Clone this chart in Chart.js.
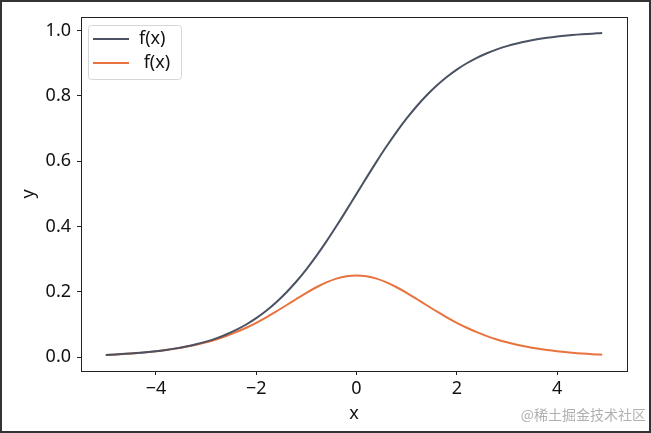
<!DOCTYPE html>
<html><head><meta charset="utf-8">
<script src="https://cdn.jsdelivr.net/npm/chart.js@4/dist/chart.umd.min.js"></script>
<style>html,body{margin:0;padding:0;background:#fff}#wrap{width:651px;height:433px;position:relative}</style>
</head><body><div id="wrap"><canvas id="c" width="651" height="433"></canvas></div>
<script>
const xValues = [-5.0,-4.8,-4.6,-4.4,-4.2,-4.0,-3.8,-3.6,-3.4,-3.2,-3.0,-2.8,-2.6,-2.4,-2.2,-2.0,-1.8,-1.6,-1.4,-1.2,-1.0,-0.8,-0.6,-0.4,-0.2,0.0,0.2,0.4,0.6,0.8,1.0,1.2,1.4,1.6,1.8,2.0,2.2,2.4,2.6,2.8,3.0,3.2,3.4,3.6,3.8,4.0,4.2,4.4,4.6,4.8,4.9];
const sigmoidValues = [0.0067,0.0082,0.0100,0.0121,0.0148,0.0180,0.0219,0.0266,0.0323,0.0392,0.0474,0.0573,0.0691,0.0832,0.0998,0.1192,0.1419,0.1680,0.1978,0.2315,0.2689,0.3100,0.3543,0.4013,0.4502,0.5000,0.5498,0.5987,0.6457,0.6900,0.7311,0.7685,0.8022,0.8320,0.8581,0.8808,0.9002,0.9168,0.9309,0.9427,0.9526,0.9608,0.9677,0.9734,0.9781,0.9820,0.9852,0.9879,0.9900,0.9918,0.9926];
const derivValues = [0.0066,0.0081,0.0099,0.0120,0.0146,0.0177,0.0214,0.0259,0.0313,0.0377,0.0452,0.0540,0.0643,0.0763,0.0898,0.1050,0.1218,0.1398,0.1587,0.1779,0.1966,0.2139,0.2288,0.2403,0.2475,0.2500,0.2475,0.2403,0.2288,0.2139,0.1966,0.1779,0.1587,0.1398,0.1218,0.1050,0.0898,0.0763,0.0643,0.0540,0.0452,0.0377,0.0313,0.0259,0.0214,0.0177,0.0146,0.0120,0.0099,0.0081,0.0074];
const seriesLabels = ["f(x)", " f(x)"];
const xTicks = [-4,-2,0,2,4];
const yTicks = [0.0,0.2,0.4,0.6,0.8,1.0];

const FONT = "'Noto Sans', sans-serif";
const colors = ["#4a5263", "#e8733e"];

const frame = {
  id: 'frame',
  afterDraw(chart) {
    const ctx = chart.ctx, a = chart.chartArea;
    ctx.save();
    ctx.strokeStyle = '#222'; ctx.lineWidth = 1;
    ctx.strokeRect(Math.round(a.left)+0.5, Math.round(a.top)+0.5, Math.round(a.right-a.left), Math.round(a.bottom-a.top));
    // legend
    ctx.fillStyle = 'rgba(255,255,255,0.85)';
    ctx.strokeStyle = '#d6d6d6'; ctx.lineWidth = 1;
    const lx = 88.5, ly = 25.5, lw = 93, lh = 54, r = 3;
    ctx.beginPath();
    ctx.moveTo(lx+r, ly); ctx.lineTo(lx+lw-r, ly); ctx.quadraticCurveTo(lx+lw, ly, lx+lw, ly+r);
    ctx.lineTo(lx+lw, ly+lh-r); ctx.quadraticCurveTo(lx+lw, ly+lh, lx+lw-r, ly+lh);
    ctx.lineTo(lx+r, ly+lh); ctx.quadraticCurveTo(lx, ly+lh, lx, ly+lh-r);
    ctx.lineTo(lx, ly+r); ctx.quadraticCurveTo(lx, ly, lx+r, ly); ctx.closePath();
    ctx.fill(); ctx.stroke();
    chart.data.datasets.forEach((ds, i) => {
      const y = 39 + i*24;
      ctx.strokeStyle = ds.borderColor; ctx.lineWidth = 2;
      ctx.beginPath(); ctx.moveTo(93, y); ctx.lineTo(129, y); ctx.stroke();
      ctx.fillStyle = '#111'; ctx.font = "18px " + FONT; ctx.textBaseline = 'middle'; ctx.textAlign = 'left';
      ctx.fillText(ds.label, 139, y);
    });
    // watermark
    ctx.fillStyle = 'rgba(150,150,150,0.75)';
    ctx.font = "14px 'Noto Sans CJK SC', sans-serif";
    ctx.textAlign = 'right'; ctx.textBaseline = 'middle';
    ctx.fillText('@稀土掘金技术社区', 646, 415);
    // outer border
    ctx.strokeStyle = '#333'; ctx.lineWidth = 2;
    ctx.strokeRect(1, 1, 649, 431);
    ctx.restore();
  }
};

new Chart(document.getElementById('c'), {
  type: 'line',
  data: {
    datasets: [
      { label: seriesLabels[0], data: xValues.map((x,i)=>({x, y: sigmoidValues[i]})), borderColor: colors[0], borderWidth: 2, pointRadius: 0, tension: 0.3, fill: false },
      { label: seriesLabels[1], data: xValues.map((x,i)=>({x, y: derivValues[i]})), borderColor: colors[1], borderWidth: 2, pointRadius: 0, tension: 0.3, fill: false }
    ]
  },
  plugins: [frame],
  options: {
    responsive: false, animation: false,
    layout: { padding: { top: 17, right: 24, left: 0, bottom: 0 } },
    plugins: { legend: { display: false }, tooltip: { enabled: false } },
    scales: {
      x: {
        type: 'linear', min: -5.495, max: 5.395,
        afterBuildTicks(s) { s.ticks = xTicks.map(v => ({ value: v })); },
        afterFit(s) { s.height = 62; },
        grid: { drawOnChartArea: false, drawTicks: true, tickLength: 4, color: '#222' },
        border: { display: false },
        ticks: { color: '#111', padding: 3, font: { family: FONT, size: 18 }, callback: v => (v < 0 ? '\u2212' + Math.abs(v) : String(v)), maxRotation: 0 },
        title: { display: true, text: 'x', color: '#111', font: { family: FONT, size: 18 }, padding: { top: 0, bottom: 8 } }
      },
      y: {
        min: -0.0427, max: 1.0419,
        afterBuildTicks(s) { s.ticks = yTicks.map(v => ({ value: v })); },
        afterFit(s) { s.width = 81; },
        grid: { drawOnChartArea: false, drawTicks: true, tickLength: 4, color: '#222' },
        border: { display: false },
        ticks: { color: '#111', padding: 6, font: { family: FONT, size: 18 }, callback: v => v.toFixed(1) },
        title: { display: true, text: 'y', color: '#111', font: { family: FONT, size: 18 }, padding: { top: 18, bottom: 0 } }
      }
    }
  }
});
</script></body></html>
